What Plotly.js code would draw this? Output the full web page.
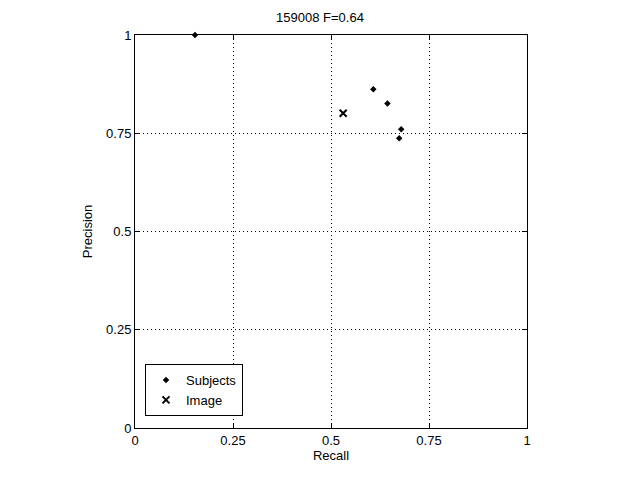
<!DOCTYPE html>
<html><head><meta charset="utf-8">
<script src="https://cdn.plot.ly/plotly-3.0.1.min.js"></script>
<style>body{margin:0;background:#fff}#c{width:640px;height:481px}</style>
</head><body><div id="c"></div>
<script>
const subjectsRecall = [0.153, 0.608, 0.644, 0.679, 0.674];
const subjectsPrecision = [1.0, 0.862, 0.826, 0.760, 0.737];
const imageRecall = [0.531];
const imagePrecision = [0.801];
const tickVals = [0, 0.25, 0.5, 0.75, 1];
const tickText = ['0', '0.25', '0.5', '0.75', '1'];
const chartTitle = '159008 F=0.64';

const fontFam = 'Liberation Sans, Arial, sans-serif';
const axisCommon = {
  range: [0, 1], tickvals: tickVals, ticktext: tickText,
  ticks: 'inside', ticklen: 5, tickcolor: '#000', tickwidth: 1,
  showline: true, linecolor: '#000', linewidth: 1, mirror: 'ticks',
  showgrid: true, gridcolor: '#000', griddash: '1px,3px', gridwidth: 1,
  zeroline: false, fixedrange: true,
  tickfont: {family: fontFam, size: 13, color: '#000'}
};

const data = [
  {x: subjectsRecall, y: subjectsPrecision, mode: 'markers', type: 'scatter', name: 'Subjects',
   marker: {symbol: 'diamond', size: 5, color: '#000'}, cliponaxis: false},
  {x: imageRecall, y: imagePrecision, mode: 'markers', type: 'scatter', name: 'Image',
   marker: {symbol: 'x-thin-open', size: 7, color: '#000', line: {color: '#000', width: 2}}, cliponaxis: false}
];

const layout = {
  width: 640, height: 481,
  margin: {l: 135, r: 113, t: 35, b: 53},
  paper_bgcolor: '#fff', plot_bgcolor: '#fff',
  title: {text: chartTitle, x: 0.5, xanchor: 'center', y: 0.963, yanchor: 'middle',
          font: {family: fontFam, size: 13, color: '#000'}},
  xaxis: Object.assign({}, axisCommon, {title: {text: 'Recall', standoff: 3,
          font: {family: fontFam, size: 13, color: '#000'}}}),
  yaxis: Object.assign({}, axisCommon, {title: {text: 'Precision', standoff: 10,
          font: {family: fontFam, size: 13, color: '#000'}}}),
  showlegend: true,
  legend: {x: 0.0255, y: 0.0305, xanchor: 'left', yanchor: 'bottom',
           bgcolor: '#fff', bordercolor: '#000', borderwidth: 1,
           font: {family: fontFam, size: 13, color: '#000'},
           tracegroupgap: 0, itemwidth: 30},
  font: {family: fontFam, size: 13, color: '#000'}
};

Plotly.newPlot('c', data, layout, {displayModeBar: false, staticPlot: true});
</script></body></html>
